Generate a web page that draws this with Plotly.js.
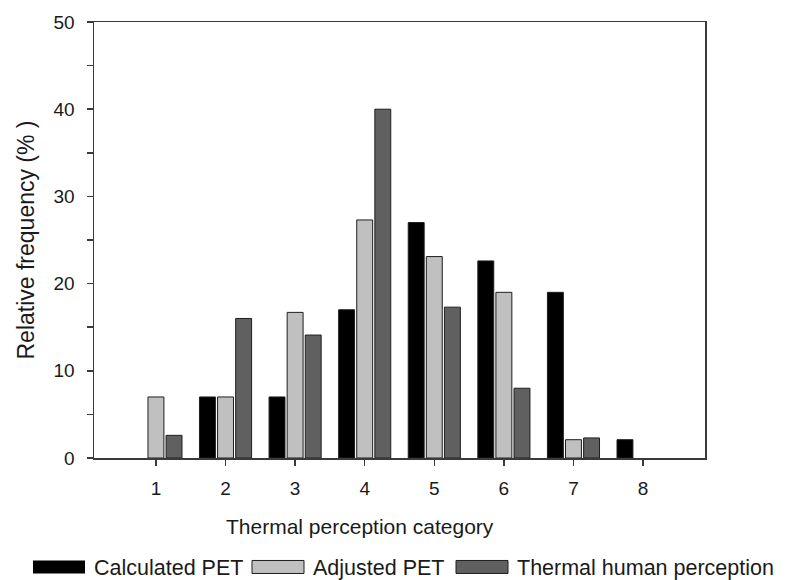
<!DOCTYPE html>
<html>
<head>
<meta charset="utf-8">
<script src="https://cdn.plot.ly/plotly-3.0.1.min.js"></script>
<style>
  html, body { margin: 0; padding: 0; background: #fff; }
  #chart { width: 790px; height: 580px; }
</style>
</head>
<body>
<div id="chart"></div>
<script>
// ---- data ----
const categories = [1, 2, 3, 4, 5, 6, 7, 8];
const calculatedPET = [0, 7, 7, 17, 27, 22.6, 19, 2.1];
const adjustedPET = [7, 7, 16.7, 27.3, 23.1, 19, 2.1, 0];
const humanPerception = [2.6, 16, 14.1, 40, 17.3, 8, 2.3, 0];
const seriesNames = ['Calculated PET', 'Adjusted PET', 'Thermal human perception'];
const yTickVals = [0, 10, 20, 30, 40, 50];

const FONT = '"Liberation Sans", Arial, sans-serif';
const TXT = '#1a1a1a';
const AX = '#3a3a3a';

function barTrace(name, values, color, legendId) {
  return {
    type: 'bar',
    name: name,
    x: categories,
    y: values,
    legend: legendId,
    marker: {
      color: color,
      line: { color: '#1e1e1e', width: values.map(v => (v > 0 ? 1 : 0)) }
    },
    hoverinfo: 'x+y+name'
  };
}

const data = [
  barTrace(seriesNames[0], calculatedPET, '#000000', 'legend'),
  barTrace(seriesNames[1], adjustedPET, '#c0c0c0', 'legend2'),
  barTrace(seriesNames[2], humanPerception, '#606060', 'legend3')
];

function legendAt(xpx) {
  return {
    orientation: 'h',
    xref: 'container', yref: 'container',
    x: xpx / 790, xanchor: 'left',
    y: 13 / 580, yanchor: 'middle',
    itemwidth: 60,
    bgcolor: 'rgba(0,0,0,0)',
    borderwidth: 0,
    font: { family: FONT, size: 21.5, color: TXT }
  };
}

const layout = {
  width: 790,
  height: 580,
  margin: { l: 94, r: 85, t: 22, b: 122 },
  paper_bgcolor: '#ffffff',
  plot_bgcolor: '#ffffff',
  font: { family: FONT, color: TXT },
  barmode: 'group',
  bargap: 0.22,
  bargroupgap: 0.12,
  showlegend: true,
  legend: legendAt(24),
  legend2: legendAt(243),
  legend3: legendAt(447),
  xaxis: {
    range: [0.11, 8.89],
    tickmode: 'array',
    tickvals: categories,
    ticktext: categories.map(String),
    ticks: 'outside',
    ticklen: 6,
    tickwidth: 1.5,
    tickcolor: AX,
    ticklabelstandoff: 7,
    tickfont: { family: FONT, size: 19, color: TXT },
    showline: true,
    linecolor: AX,
    linewidth: 1.5,
    mirror: true,
    showgrid: false,
    zeroline: false,
    fixedrange: true
  },
  yaxis: {
    range: [0, 50],
    tickmode: 'array',
    tickvals: yTickVals,
    ticks: 'outside',
    ticklen: 6,
    tickwidth: 1.5,
    tickcolor: AX,
    ticklabelstandoff: 8,
    tickfont: { family: FONT, size: 19, color: TXT },
    minor: { dtick: 5, tick0: 0, ticks: 'outside', ticklen: 6, tickwidth: 1.5, tickcolor: AX, showgrid: false },
    showline: true,
    linecolor: AX,
    linewidth: 1.5,
    mirror: true,
    showgrid: false,
    zeroline: false,
    fixedrange: true,
    title: { text: 'Relative frequency (% )', font: { family: FONT, size: 23, color: TXT }, standoff: 12 }
  },
  annotations: [
    {
      text: 'Thermal perception category',
      xref: 'paper', yref: 'paper',
      x: 0.435, y: -0.156,
      xanchor: 'center', yanchor: 'middle',
      showarrow: false,
      font: { family: FONT, size: 21, color: TXT }
    }
  ]
};

Plotly.newPlot('chart', data, layout, { displayModeBar: false, staticPlot: true }).then(function (gd) {
  // widen the legend swatches to match the wide rectangles of the original legend
  gd.querySelectorAll('g.legendpoints path').forEach(function (p) {
    p.setAttribute('d', 'M26,6.5H-26V-6.5H26Z');
  });
});
</script>
</body>
</html>
